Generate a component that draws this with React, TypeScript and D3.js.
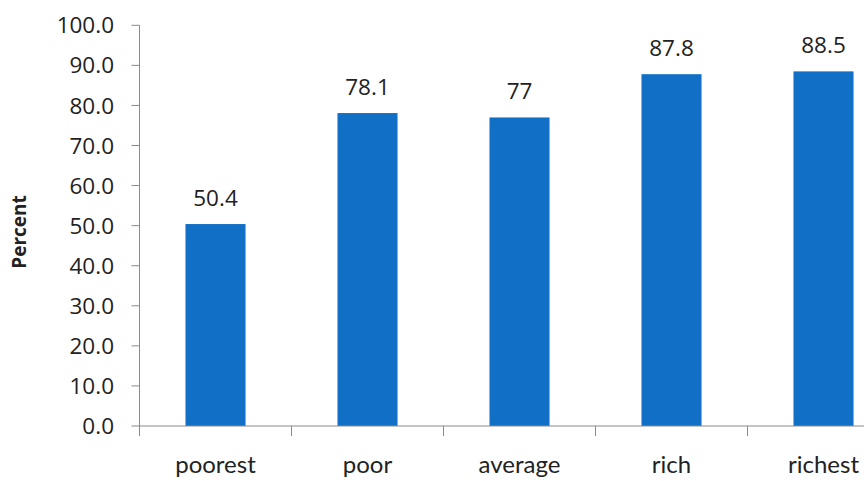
import React from "react";
import * as d3 from "d3";

const categories = ["poorest", "poor", "average", "rich", "richest"];
const values = [50.4, 78.1, 77, 87.8, 88.5];
const valueLabels = ["50.4", "78.1", "77", "87.8", "88.5"];
const yTicks = [0, 10, 20, 30, 40, 50, 60, 70, 80, 90, 100];

const W = 864;
const H = 481;

export default function App() {
  const x = d3
    .scaleBand<string>()
    .domain(categories)
    .range([139.5, 899.5])
    .paddingInner(0.605)
    .paddingOuter(0.3025);
  const y = d3.scaleLinear().domain([0, 100]).range([426, 25.3]);
  const axisColor = "#8a8a8a";
  const textColor = "#222";
  const step = x.step();
  const x0 = 139.5;

  return (
    <div style={{ position: "fixed", left: 0, top: 0 }}>
      <svg width={W} height={H} style={{ display: "block", background: "#fff" }}>
        {/* bars */}
        {categories.map((c, i) => (
          <rect
            key={c}
            x={x(c)}
            y={y(values[i])}
            width={x.bandwidth()}
            height={y(0) - y(values[i])}
            fill="#1170c6"
          />
        ))}
        {/* y axis */}
        <line x1={x0} x2={x0} y1={y(100)} y2={y(0)} stroke={axisColor} strokeWidth={1} />
        {yTicks.map((t) => (
          <g key={t}>
            <line x1={x0 - 8} x2={x0} y1={y(t)} y2={y(t)} stroke={axisColor} strokeWidth={1} />
            <text
              x={114}
              y={y(t)}
              dy="0.36em"
              textAnchor="end"
              fontFamily="'Open Sans', 'DejaVu Sans', sans-serif"
              fontSize={22.5}
              fill={textColor}
            >
              {t.toFixed(1)}
            </text>
          </g>
        ))}
        {/* x axis */}
        <line x1={x0} x2={W} y1={y(0)} y2={y(0)} stroke={axisColor} strokeWidth={1} />
        {categories.map((c, i) => (
          <line
            key={"t" + c}
            x1={x0 + step * i}
            x2={x0 + step * i}
            y1={y(0)}
            y2={y(0) + 10}
            stroke={axisColor}
            strokeWidth={1}
          />
        ))}
        {categories.map((c) => (
          <text
            key={"l" + c}
            x={(x(c) as number) + x.bandwidth() / 2}
            y={473}
            textAnchor="middle"
            fontFamily="Lato, 'Open Sans', sans-serif"
            fontSize={24}
            fill={textColor}
          >
            {c}
          </text>
        ))}
        {/* value labels */}
        {categories.map((c, i) => (
          <text
            key={"v" + c}
            x={(x(c) as number) + x.bandwidth() / 2}
            y={y(values[i]) - 18}
            textAnchor="middle"
            fontFamily="'Open Sans', 'DejaVu Sans', sans-serif"
            fontSize={22.5}
            fill={textColor}
          >
            {valueLabels[i]}
          </text>
        ))}
        {/* y axis title */}
        <text
          transform={`translate(26, 232) rotate(-90)`}
          textAnchor="middle"
          fontFamily="'Open Sans', sans-serif"
          fontWeight="bold"
          fontSize={19}
          fill={textColor}
        >
          Percent
        </text>
      </svg>
    </div>
  );
}
